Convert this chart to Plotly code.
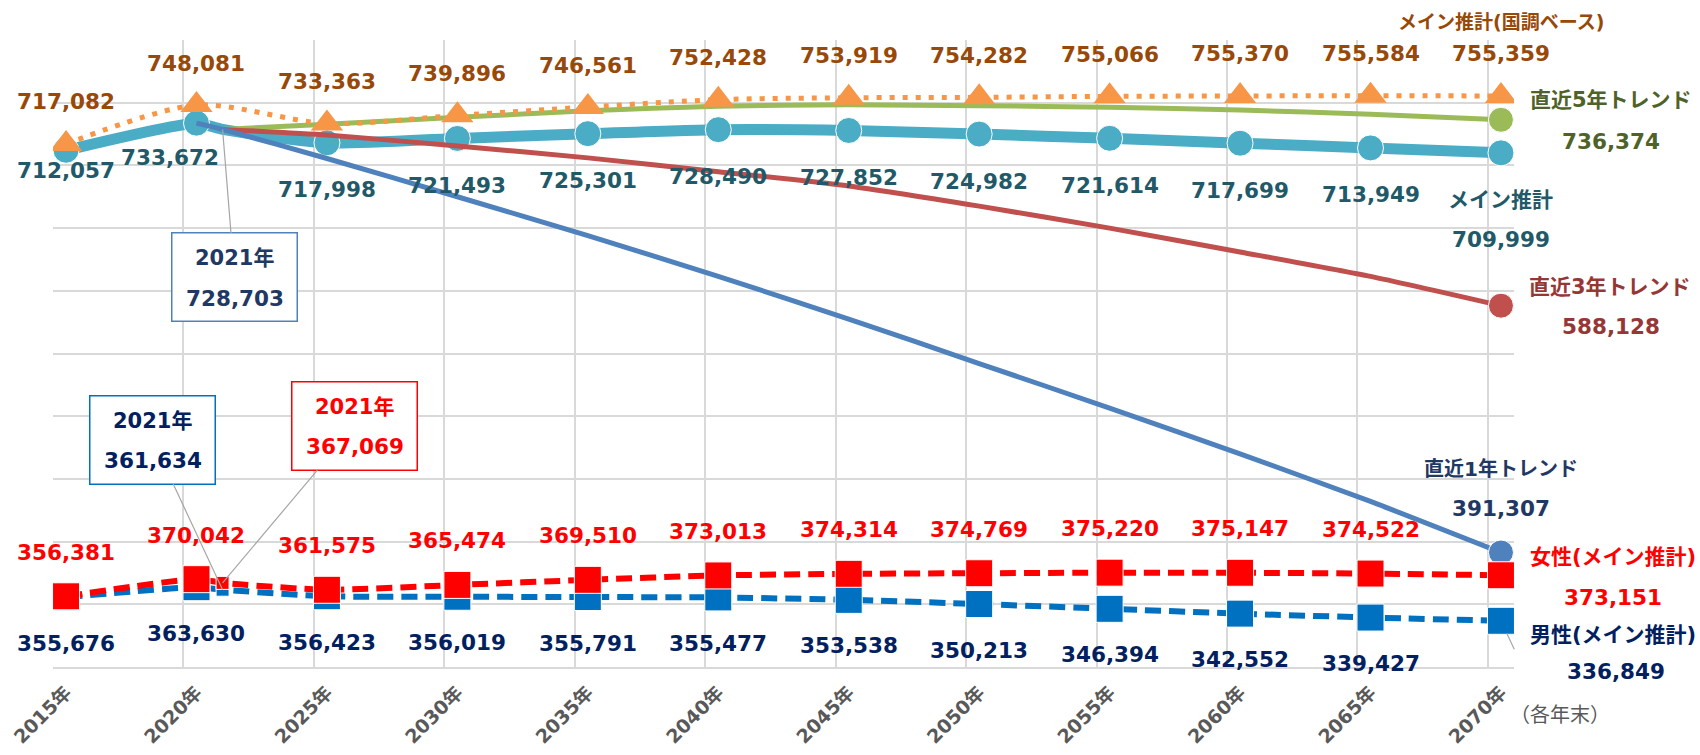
import plotly.graph_objects as go

# ---------------- data ----------------
years5 = [2015, 2020, 2025, 2030, 2035, 2040, 2045, 2050, 2055, 2060, 2065, 2070]
years_m = [2015, 2020, 2021, 2025, 2030, 2035, 2040, 2045, 2050, 2055, 2060, 2065, 2070]
years_tr = [2021, 2025, 2030, 2035, 2040, 2045, 2050, 2055, 2060, 2065, 2070]
years_tr1 = [2020, 2021, 2025, 2030, 2035, 2040, 2045, 2050, 2055, 2060, 2065, 2070]

main_vals = [712057, 733672, 728703, 717998, 721493, 725301, 728490, 727852,
             724982, 721614, 717699, 713949, 709999]
census_vals = [717082, 748081, 733363, 739896, 746561, 752428, 753919, 754282,
               755066, 755370, 755584, 755359]
female_vals = [356381, 370042, 367069, 361575, 365474, 369510, 373013, 374314,
               374769, 375220, 375147, 374522, 373151]
male_vals = [355676, 363630, 361634, 356423, 356019, 355791, 355477, 353538,
             350213, 346394, 342552, 339427, 336849]
trend5_vals = [728703, 732800, 738300, 743500, 747200, 748300, 747600, 746400,
               744200, 740800, 736374]
trend3_vals = [728703, 724200, 715500, 706000, 695000, 683600, 667500, 650000,
               631000, 611500, 588128]
trend1_vals = [733672, 728703, 705500, 675000, 644000, 611500, 577500, 542000,
               506500, 470000, 432000, 391307]

tick_labels = [f"{y}年" for y in years5]

# ---------------- styles ----------------
FONT = "DejaVu Sans, Noto Sans CJK JP, sans-serif"
C_MAIN, C_MAIN_T = "#4BACC6", "#215968"
C_T5, C_T5_T = "#9BBB59", "#4F6228"
C_T3, C_T3_T = "#C0504D", "#953735"
C_T1, C_T1_T = "#4F81BD", "#1F3864"
C_CEN, C_CEN_T = "#F79646", "#984807"
C_F, C_F_T = "#FF0000", "#FF0000"
C_M, C_M_T = "#0070C0", "#002060"
GRID = "#D9D9D9"
LBL = 21.5
JP = 21

fig = go.Figure()

fig.add_trace(go.Scatter(
    x=years_m, y=main_vals, mode="lines+markers",
    line=dict(color=C_MAIN, width=11, shape="spline", smoothing=0.6),
    marker=dict(color=C_MAIN, opacity=1, size=[0 if y == 2021 else 26 for y in years_m])))

def end_sizes(ys):
    return [25 if y == 2070 else 0 for y in ys]

fig.add_trace(go.Scatter(
    x=years_tr, y=trend5_vals, mode="lines+markers",
    line=dict(color=C_T5, width=5, shape="spline", smoothing=0.6),
    marker=dict(color=C_T5, opacity=1, size=end_sizes(years_tr))))
fig.add_trace(go.Scatter(
    x=years_tr, y=trend3_vals, mode="lines+markers",
    line=dict(color=C_T3, width=5, shape="spline", smoothing=0.6),
    marker=dict(color=C_T3, opacity=1, size=end_sizes(years_tr))))
fig.add_trace(go.Scatter(
    x=years_tr1, y=trend1_vals, mode="lines+markers",
    line=dict(color=C_T1, width=5, shape="spline", smoothing=0.6),
    marker=dict(color=C_T1, opacity=1, size=end_sizes(years_tr1))))
fig.add_trace(go.Scatter(
    x=years5, y=census_vals, mode="lines+markers",
    line=dict(color=C_CEN, width=5, dash="5px,8px", shape="spline", smoothing=0.8),
    marker=dict(color=C_CEN, opacity=1, symbol="triangle-up", size=28)))

sq_sizes = [13 if y == 2021 else 27 for y in years_m]
fig.add_trace(go.Scatter(
    x=years_m, y=male_vals, mode="lines+markers",
    line=dict(color=C_M, width=6, dash="16px,8px", shape="spline", smoothing=0.6),
    marker=dict(color=C_M, opacity=1, symbol="square", size=sq_sizes)))
fig.add_trace(go.Scatter(
    x=years_m, y=female_vals, mode="lines+markers",
    line=dict(color=C_F, width=6, dash="16px,8px", shape="spline", smoothing=0.6),
    marker=dict(color=C_F, opacity=1, symbol="square", size=sq_sizes)))

# ---------------- labels ----------------
ann = []

def lab(x, y, text, color, dx=0, dy=0, size=LBL, bold=True):
    t = f"<b>{text}</b>" if bold else text
    ann.append(dict(x=x, y=y, xref="x", yref="y", text=t, showarrow=False,
                    xshift=dx, yshift=-dy, xanchor="center", yanchor="middle",
                    font=dict(family=FONT, size=size, color=color)))

main_by_year = dict(zip(years_m, main_vals))
female_by_year = dict(zip(years_m, female_vals))
male_by_year = dict(zip(years_m, male_vals))

main_dx = {2015: 0, 2020: -26}
main_dy = {2015: 20, 2020: 34}
for y in years5[:-1]:
    v = main_by_year[y]
    lab(y, v, f"{v:,}", C_MAIN_T, main_dx.get(y, 0), main_dy.get(y, 47))
    lab(y, female_by_year[y], f"{female_by_year[y]:,}", C_F_T, 0, -44)
    lab(y, male_by_year[y], f"{male_by_year[y]:,}", C_M_T, 0, 46)
for y, v in zip(years5, census_vals):
    lab(y, v, f"{v:,}", C_CEN_T, 0, -42)

# right-side series labels
lab(2070, census_vals[-1], "メイン推計(国調ベース)", C_CEN_T, 0, -74, size=19)
lab(2070, trend5_vals[-1], "直近5年トレンド", C_T5_T, 110, -20, size=JP)
lab(2070, trend5_vals[-1], f"{trend5_vals[-1]:,}", C_T5_T, 110, 22)
lab(2070, main_vals[-1], "メイン推計", C_MAIN_T, 0, 47, size=JP)
lab(2070, main_vals[-1], f"{main_vals[-1]:,}", C_MAIN_T, 0, 87)
lab(2070, trend3_vals[-1], "直近3年トレンド", C_T3_T, 109, -19, size=JP)
lab(2070, trend3_vals[-1], f"{trend3_vals[-1]:,}", C_T3_T, 110, 21)
lab(2070, trend1_vals[-1], "直近1年トレンド", C_T1_T, 0, -84, size=20)
lab(2070, trend1_vals[-1], f"{trend1_vals[-1]:,}", C_T1_T, 0, -44)
lab(2070, female_vals[-1], "女性(メイン推計)", C_F_T, 112, -18, size=JP)
lab(2070, female_vals[-1], f"{female_vals[-1]:,}", C_F_T, 112, 22)
lab(2070, male_vals[-1], "男性(メイン推計)", C_M_T, 112, 14, size=JP)
lab(2070, male_vals[-1], f"{male_vals[-1]:,}", C_M_T, 115, 51)

# leader for male side label
ann.append(dict(x=2070, y=male_vals[-1], xref="x", yref="y", text="",
                showarrow=True, arrowhead=0, arrowwidth=1.2, arrowcolor="#A6A6A6",
                ax=14, ay=30, standoff=14))

# 2021 call-out boxes: framed box + two text lines
def box(x, y, year_txt, val, color, border, ax, ay):
    ann.append(dict(x=x, y=y, xref="x", yref="y", text=" ", showarrow=True,
                    arrowhead=0, arrowwidth=1.2, arrowcolor="#A6A6A6",
                    ax=ax, ay=ay, bordercolor=border, borderwidth=1.5,
                    borderpad=0, bgcolor="white", width=124, height=87,
                    font=dict(family=FONT, size=20, color=color)))
    lab(x, y, year_txt, color, ax, ay - 19, size=JP)
    lab(x, y, f"{val:,}", color, ax, ay + 21, size=LBL)

box(2021, main_by_year[2021], "2021年", main_by_year[2021], C_T1_T, "#4F81BD", 12, 148)
box(2021, male_by_year[2021], "2021年", male_by_year[2021], C_M_T, "#0070C0", -70, -150)
box(2021, female_by_year[2021], "2021年", female_by_year[2021], C_F_T, "#FF0000", 132, -157)

# unit note
ann.append(dict(x=1.0315, y=-0.0766, xref="paper", yref="paper", text="（各年末）",
                showarrow=False, xanchor="center", yanchor="middle",
                font=dict(family=FONT, size=20, color="#595959")))

fig.update_layout(
    width=1700, height=755,
    margin=dict(l=53, r=186, t=40, b=88),
    paper_bgcolor="white", plot_bgcolor="white",
    showlegend=False,
    annotations=ann,
    xaxis=dict(range=[2014.5, 2070.5], tickmode="array", tickvals=years5,
               ticktext=[f"<b>{t}</b>" for t in tick_labels], tickangle=-45,
               tickfont=dict(family=FONT, size=19, color="#595959"),
               showgrid=False, showline=True, linecolor=GRID, linewidth=2,
               ticks="", ticklabelstandoff=5, zeroline=False, automargin=False,
               minor=dict(tickmode="array", tickvals=[y - 0.5 for y in years5],
                          showgrid=True, gridcolor=GRID, gridwidth=1.5, ticks="")),
    yaxis=dict(range=[300000, 800000], dtick=50000, showticklabels=False,
               showgrid=True, gridcolor=GRID, gridwidth=1.5, zeroline=False,
               automargin=False),
)

fig.write_html("out.html", config={"displayModeBar": False},
               post_script="document.body.style.margin='0';document.body.style.overflow='hidden';")
